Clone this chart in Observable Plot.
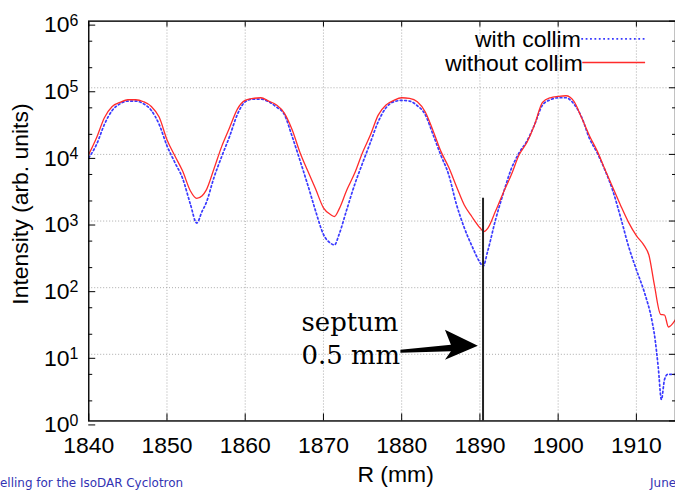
<!DOCTYPE html>
<html><head><meta charset="utf-8">
<script src="https://cdn.jsdelivr.net/npm/d3@7"></script>
<script src="https://cdn.jsdelivr.net/npm/@observablehq/plot@0.6"></script>
<style>
html,body{margin:0;padding:0;background:#fff;overflow:hidden;}
#wrap{position:relative;width:675px;height:494px;overflow:hidden;}
</style></head><body><div id="wrap"></div>
<script>
// ---- data ----
const rWithout = [1840,1841,1842,1843,1844,1845,1846,1847,1848,1849,1850,1851,1852,1853,1853.8,1854.5,1855,1856,1857,1858,1859,1860,1861,1862,1863,1864,1865,1866,1867,1868,1869,1870,1871,1871.4,1872,1873,1874,1875,1876,1877,1878,1879,1880,1881,1882,1883,1884,1885,1886,1887,1888,1889,1890,1890.5,1891,1892,1893,1894,1895,1896,1897,1898,1899,1900,1901,1902,1903,1904,1905,1906,1907,1908,1909,1910,1911,1911.6,1912.3,1913.1,1913.6,1914.1,1915];
const withoutCollim = [10000,17800,35500,52500,60300,66100,66100,61700,52500,36300,16600,9550,5620,2820,2190,2400,2880,6030,13200,25100,47900,64600,69200,70800,63100,55000,41700,23400,10700,5620,3020,1580,1230,1170,1510,2950,5250,10700,19500,38900,55000,64600,70800,69200,61700,43700,22900,11200,6460,3310,1740,1150,794,692,776,1410,2690,4900,9770,15100,28200,60300,70800,74100,75900,63100,35500,19100,11200,5890,3160,1700,955,603,427,309,110,39.8,38.9,25.7,33.1];
const rWith = [1840,1841,1842,1843,1844,1845,1846,1847,1848,1849,1850,1851,1852,1853,1853.8,1854.5,1855,1856,1857,1858,1859,1860,1861,1862,1863,1864,1865,1866,1867,1868,1869,1870,1871,1871.4,1872,1873,1874,1875,1876,1877,1878,1879,1880,1881,1882,1883,1884,1885,1886,1887,1888,1889,1890,1890.4,1891,1892,1893,1894,1895,1896,1897,1898,1899,1900,1901,1902,1903,1904,1905,1906,1907,1908,1909,1910,1911,1912,1912.3,1912.8,1913.2,1913.6,1914,1915];
const withCollim = [8900,14100,28200,45700,57500,63100,63100,57500,45700,28200,13500,7590,4370,1780,933,1410,1860,4470,9330,18600,39800,61700,67600,67600,61700,51300,39800,18600,8130,3470,1410,631,457,437,631,1510,3550,7410,15100,30900,50100,61700,64600,63100,53700,39800,20000,9770,5010,1780,794,417,240,209,355,1050,2630,6030,10500,15800,28200,55000,66100,70800,70800,57500,36300,17400,10500,5750,2820,1120,417,186,87,31.6,20,6.3,2.1,4.2,5.0,5.0];
const seriesNames = ["with collim", "without collim"];
const xTicks = [1840,1850,1860,1870,1880,1890,1900,1910];
const yTicks = [1,10,100,1000,10000,100000,1000000];
const yMinor = [2,5,20,50,200,500,2000,5000,20000,50000,200000,500000];
const septumR = [1890.4];
const septumTop = 2200;
const septumLabel = ["septum\n0.5 mm"];
const septumLabelPos = {x: 1867.2, y: 7.05};
const arrowTail = [1879.9, 11];
const arrowTip = [1889.8, 13.2];
const axisLabels = {x: "R (mm)", y: "Intensity (arb. units)"};
const footer = ["elling for the IsoDAR Cyclotron", "June"];

const withData = rWith.map((r, i) => ({R: r, I: withCollim[i]}));
const withoutData = rWithout.map((r, i) => ({R: r, I: withoutCollim[i]}));

const sans = "'Liberation Sans', Arial, Helvetica, sans-serif";
const gridStyle = {stroke: "#aaa", strokeOpacity: 1, strokeWidth: 1, strokeDasharray: "1,2"};
const blue = "#3a3aff", red = "#ff2b2b";
const blueDash = "1.8,2.6";

const plot = Plot.plot({
  width: 677, height: 494,
  marginLeft: 88.5, marginTop: 20.7, marginBottom: 72.3, marginRight: 0,
  style: {fontFamily: sans, fontSize: "23px", color: "#000", background: "#fff", overflow: "visible"},
  x: {domain: [1840, 1915]},
  y: {type: "log", domain: [1, 1e6]},
  marks: [
    Plot.gridX(xTicks.slice(1), gridStyle),
    Plot.gridY(yTicks.slice(1, -1), gridStyle),
    Plot.line(withData, {x: "R", y: "I", stroke: blue, strokeWidth: 1.7, strokeDasharray: blueDash, curve: "monotone-x", clip: true}),
    Plot.line(withoutData, {x: "R", y: "I", stroke: red, strokeWidth: 1.3, curve: "monotone-x", clip: true}),
    Plot.ruleX(septumR, {y1: 1, y2: septumTop, stroke: "#222", strokeWidth: 2}),
    Plot.frame({stroke: "#111", strokeWidth: 1.5}),
    Plot.axisX(xTicks, {anchor: "bottom", tickSize: -7, tickPadding: 23, label: null, tickFormat: d => String(d), fontSize: 23}),
    Plot.axisX(xTicks, {anchor: "top", tickSize: -5, fill: "none", label: null}),
    Plot.axisY(yTicks, {anchor: "left", tickSize: -7, tickPadding: 17.5, dy: 4, label: null, tickFormat: d => "10^" + Math.round(Math.log10(d)), fontSize: 23}),
    Plot.axisY(yMinor, {anchor: "left", tickSize: -4, fill: "none", label: null}),
    Plot.axisY(yTicks, {anchor: "right", tickSize: -7, fill: "none", label: null}),
    Plot.axisY(yMinor, {anchor: "right", tickSize: -4, fill: "none", label: null}),
    Plot.text([axisLabels.y], {frameAnchor: "left", textAnchor: "middle", rotate: -90, dx: -68.5, dy: -17, fontSize: 23, fill: "#000"}),
    Plot.text([axisLabels.x], {frameAnchor: "bottom", textAnchor: "middle", dx: 13.5, dy: 61, fontSize: 23, fill: "#000"}),
    Plot.text([seriesNames[0]], {frameAnchor: "top-right", textAnchor: "end", lineAnchor: "bottom", dx: -95, dy: 26, fontSize: 23, fill: "#000"}),
    Plot.text([seriesNames[1]], {frameAnchor: "top-right", textAnchor: "end", lineAnchor: "bottom", dx: -93, dy: 50, fontSize: 23, fill: "#000"}),
    Plot.text(septumLabel, {x: () => septumLabelPos.x, y: () => septumLabelPos.y, textAnchor: "start", lineAnchor: "bottom", lineHeight: 1.28, fontFamily: "'DejaVu Serif', serif", fontSize: 26, fill: "#000"})
  ]
});

const svg = d3.select(plot);

// superscript exponents on y tick labels
svg.selectAll('g[aria-label="y-axis tick label"] text').each(function() {
  const t = d3.select(this);
  const s = t.text();
  if (!s.includes("^")) return;
  const [base, exp] = s.split("^");
  t.text(null);
  t.append("tspan").text(base);
  t.append("tspan").attr("dy", "-0.42em").attr("font-size", "16px").text(exp);
});

const xs = plot.scale("x"), ys = plot.scale("y");

// legend samples
const leg = svg.append("g");
leg.append("line").attr("x1", 583).attr("x2", 647).attr("y1", 39).attr("y2", 39)
  .attr("stroke", blue).attr("stroke-width", 1.7).attr("stroke-dasharray", blueDash);
leg.append("line").attr("x1", 584).attr("x2", 647).attr("y1", 62.7).attr("y2", 62.7)
  .attr("stroke", red).attr("stroke-width", 1.3);

// septum arrow
const tx = xs.apply(arrowTip[0]), ty = ys.apply(arrowTip[1]);
const ax = xs.apply(arrowTail[0]), ay = ys.apply(arrowTail[1]);
const p = d3.path();
p.moveTo(ax, ay - 1.3);
p.lineTo(tx - 27, ty - 1);
p.lineTo(tx - 33, ty - 16);
p.lineTo(tx, ty);
p.lineTo(tx - 33, ty + 14);
p.lineTo(tx - 27, ty + 5.5);
p.lineTo(ax, ay + 1.7);
p.closePath();
svg.append("path").attr("d", p.toString()).attr("fill", "#000");

// footer
svg.append("text").attr("x", 0).attr("y", 488).attr("text-anchor", "start").attr("font-family", "'DejaVu Sans', sans-serif")
  .attr("font-size", 12).attr("fill", "#3333b3").text(footer[0]);
svg.append("text").attr("x", 652).attr("y", 488).attr("text-anchor", "start").attr("font-family", "'DejaVu Sans', sans-serif")
  .attr("font-size", 12).attr("fill", "#3333b3").text(footer[1]);

document.getElementById("wrap").appendChild(plot);
</script>
</body></html>
